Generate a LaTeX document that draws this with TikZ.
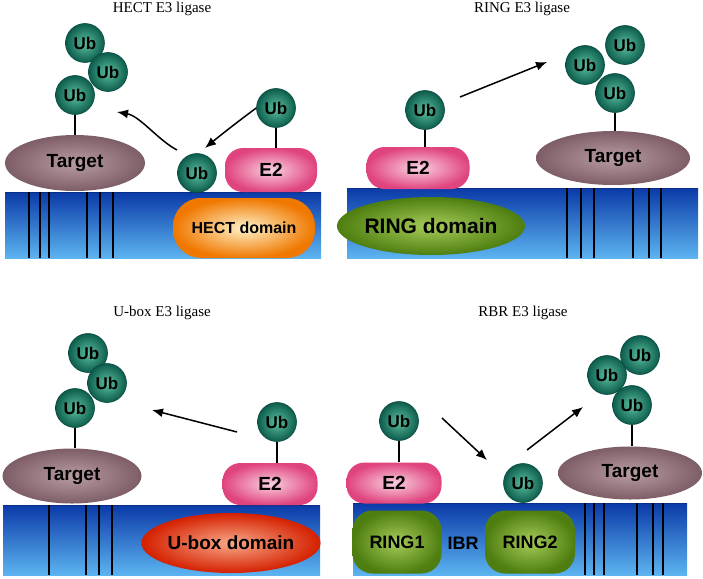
\documentclass[tikz,border=0pt]{standalone}
\usepackage{fontspec}
\setmainfont{Liberation Serif}
\setsansfont{Liberation Sans}
\usetikzlibrary{arrows.meta,shapes.geometric}

\definecolor{ubin}{HTML}{5CC0A0}
\definecolor{ubout}{HTML}{0C5C4C}
\definecolor{tgtin}{HTML}{B99CA3}
\definecolor{tgtout}{HTML}{7E5E66}
\definecolor{e2in}{HTML}{FAD0E2}
\definecolor{e2out}{HTML}{E0447E}
\definecolor{hectin}{HTML}{FFF2C8}
\definecolor{hectout}{HTML}{F07800}
\definecolor{ringin}{HTML}{A6CC58}
\definecolor{ringout}{HTML}{4E7E10}
\definecolor{uboxin}{HTML}{F8A888}
\definecolor{uboxout}{HTML}{D42000}
\definecolor{memtop}{HTML}{0B3AA8}
\definecolor{membot}{HTML}{5CB4F0}

\tikzset{
  ub/.style={circle,minimum size=39pt,inner sep=0pt,draw=ubout!80!black,line width=0.6pt,
    inner color=ubin,outer color=ubout,font=\sffamily\bfseries\fontsize{17}{17}\selectfont},
  tgtbox/.style={ellipse,inner sep=0pt,inner color=tgtin,outer color=tgtout,
    font=\sffamily\bfseries\fontsize{19}{19}\selectfont},
  e2box/.style={rectangle,rounded corners=18pt,inner sep=0pt,inner color=e2in,outer color=e2out,
    font=\sffamily\bfseries\fontsize{19}{19}\selectfont},
  ringbox/.style={rectangle,rounded corners=20pt,inner sep=0pt,inner color=ringin,outer color=ringout,
    font=\sffamily\bfseries\fontsize{18}{18}\selectfont},
  ligtitle/.style={font=\fontsize{15}{15}\selectfont},
  membrane/.style={top color=memtop,bottom color=membot},
  stripe/.style={black,line width=1.3pt},
  link/.style={black,line width=1.3pt},
  arr/.style={-{Latex[length=11pt,width=9pt]},black,line width=1.5pt}
}

\begin{document}
\begin{tikzpicture}[x=1pt,y=-1pt]

\useasboundingbox (0,0) rectangle (703,578);

% HECT
\node[ligtitle] (p1title) at (162,9) {HECT E3 ligase};
\shade[membrane] (5,192) rectangle (321,258);
\draw[memtop!80!black,line width=0.8pt] (5,192) -- (321,192);
\foreach \x in {29,40,49,87,100,113}
  \draw[stripe] (\x,192) -- (\x,258);

\node[tgtbox,minimum width=140pt,minimum height=56pt] (p1tgt) at (75,163) {Target};
\node[ub] (p1ubA) at (85,43) {Ub};
\node[ub] (p1ubB) at (108,72) {Ub};
\node[ub] (p1ubC) at (75,95) {Ub};
\draw[link] (p1ubC.south) -- (p1ubC.south |- p1tgt.north);

\node[e2box,minimum width=92pt,minimum height=44pt] (p1e2) at (271,170) {E2};
\node[ub] (p1ubE) at (276,108) {Ub};
\draw[link] (p1ubE.south) -- (p1ubE.south |- p1e2.north);
\node[ub] (p1ubF) at (197,173) {Ub};
\node[rectangle,rounded corners=28pt,inner sep=0pt,minimum width=142pt,minimum height=60pt,
  inner color=hectin,outer color=hectout,font=\sffamily\bfseries\fontsize{16}{16}\selectfont]
  (p1dom) at (244,228) {HECT domain};

\coordinate (p1in) at (205,148);
\coordinate (p1go) at (177,150);
\coordinate (p1to) at (117,112);
\draw[arr] (p1ubE.west) .. controls (240,120) and (222,134) .. (p1in);
\draw[arr] (p1go) .. controls (158,140) and (140,116) .. (p1to);

% RING
\node[ligtitle] (p2title) at (522,9) {RING E3 ligase};
\shade[membrane] (347,188) rectangle (698,258);
\draw[memtop!80!black,line width=0.8pt] (347,188) -- (698,188);
\foreach \x in {567,581,594,633,649,661}
  \draw[stripe] (\x,188) -- (\x,258);

\node[ellipse,inner sep=0pt,minimum width=163pt,minimum height=58pt,
  inner color=ringin,outer color=ringout,font=\sffamily\bfseries\fontsize{21}{21}\selectfont]
  (p2dom) at (431,226) {RING domain};
\node[e2box,minimum width=103pt,minimum height=42pt] (p2e2) at (418,168) {E2};
\node[ub] (p2ubE) at (425,110) {Ub};
\draw[link] (p2ubE.south) -- (p2ubE.south |- p2e2.north);

\node[tgtbox,minimum width=154pt,minimum height=54pt] (p2tgt) at (613,158) {Target};
\node[ub] (p2ubA) at (625,45) {Ub};
\node[ub] (p2ubB) at (585,65) {Ub};
\node[ub] (p2ubC) at (615,93) {Ub};
\draw[link] (p2ubC.south) -- (p2ubC.south |- p2tgt.north);

\coordinate (p2go) at (460,97);
\coordinate (p2to) at (547,62);
\draw[arr] (p2go) -- (p2to);

% U-box
\node[ligtitle] (p3title) at (162,313) {U-box E3 ligase};
\shade[membrane] (3,505) rectangle (320,575);
\draw[memtop!80!black,line width=0.8pt] (3,505) -- (320,505);
\foreach \x in {49,86,99,112}
  \draw[stripe] (\x,505) -- (\x,575);

\node[tgtbox,minimum width=139pt,minimum height=55pt] (p3tgt) at (72,476) {Target};
\node[ub] (p3ubA) at (88,353) {Ub};
\node[ub] (p3ubB) at (107,383) {Ub};
\node[ub] (p3ubC) at (75,408) {Ub};
\draw[link] (p3ubC.south) -- (p3ubC.south |- p3tgt.north);

\node[e2box,minimum width=95pt,minimum height=42pt] (p3e2) at (270,484) {E2};
\node[ub] (p3ubE) at (277,422) {Ub};
\draw[link] (p3ubE.south) -- (p3ubE.south |- p3e2.north);
\node[ellipse,inner sep=0pt,minimum width=157pt,minimum height=60pt,
  inner color=uboxin,outer color=uboxout,font=\sffamily\bfseries\fontsize{19}{19}\selectfont]
  (p3dom) at (231,543) {U-box domain};

\coordinate (p3go) at (237,432);
\coordinate (p3to) at (152,410);
\draw[arr] (p3go) -- (p3to);

% RBR
\node[ligtitle] (p4title) at (523,313) {RBR E3 ligase};
\shade[membrane] (353,503) rectangle (687,575);
\draw[memtop!80!black,line width=0.8pt] (353,503) -- (687,503);
\foreach \x in {585,594,604,637,653,663}
  \draw[stripe] (\x,503) -- (\x,575);

\node[e2box,minimum width=95pt,minimum height=41pt] (p4e2) at (394,483) {E2};
\node[ub] (p4ubE) at (399,421) {Ub};
\draw[link] (p4ubE.south) -- (p4ubE.south |- p4e2.north);
\node[ringbox,minimum width=89pt,minimum height=63pt] (p4ring1) at (397,542) {RING1};
\node[font=\sffamily\bfseries\fontsize{18}{18}\selectfont] (p4ibr) at (463,543) {IBR};
\node[ringbox,minimum width=90pt,minimum height=63pt] (p4ring2) at (530,542) {RING2};
\node[ub] (p4ubR) at (523,483) {Ub};

\node[tgtbox,minimum width=144pt,minimum height=53pt] (p4tgt) at (630,473) {Target};
\node[ub] (p4ubA) at (640,355) {Ub};
\node[ub] (p4ubB) at (607,375) {Ub};
\node[ub] (p4ubC) at (632,405) {Ub};
\draw[link] (p4ubC.south) -- (p4ubC.south |- p4tgt.north);

\coordinate (p4go) at (442,418);
\coordinate (p4in) at (487,460);
\coordinate (p4up) at (527,450);
\coordinate (p4to) at (583,407);
\draw[arr] (p4go) -- (p4in);
\draw[arr] (p4up) -- (p4to);

\end{tikzpicture}
\end{document}
